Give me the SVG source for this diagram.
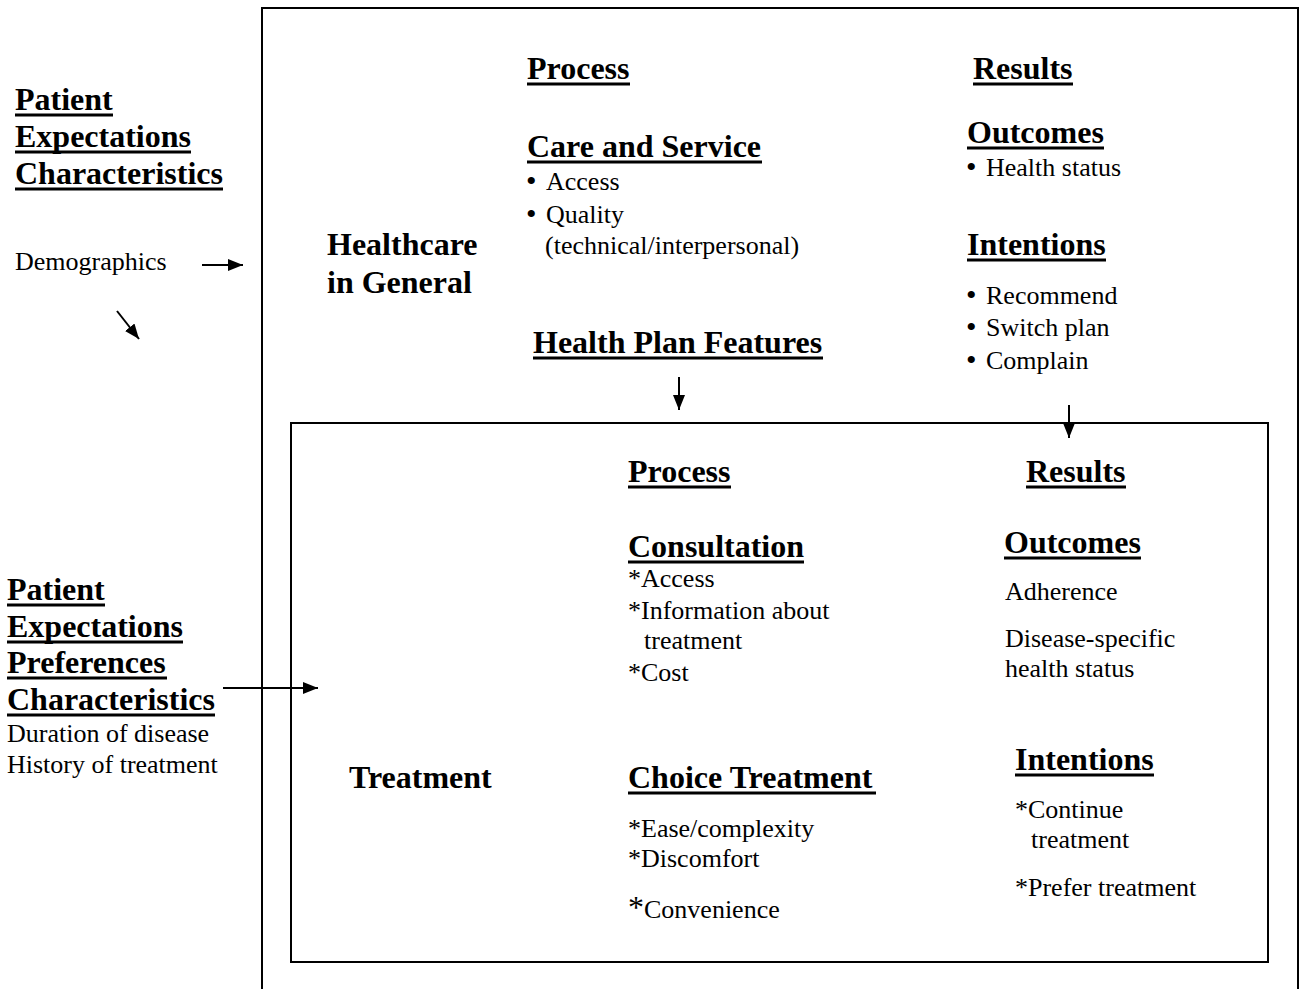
<svg xmlns="http://www.w3.org/2000/svg" width="1304" height="989" viewBox="0 0 1304 989">
  <style>
    text { font-family: "Liberation Serif", "Times New Roman", serif; fill: #000; }
    .h { font-size: 32px; font-weight: bold; }
    .b { font-size: 26px; }
    .dot { font-size: 30px; }
    .ul { stroke: #000; stroke-width: 3; }
    .box { fill: none; stroke: #000; stroke-width: 2; }
    .conn { stroke: #000; stroke-width: 2; fill: none; }
  </style>
  <defs>
    <marker id="arrow" markerUnits="userSpaceOnUse" markerWidth="16" markerHeight="12" refX="15" refY="6" orient="auto">
      <path d="M0,0 L15,6 L0,12 Z" fill="#000"/>
    </marker>
  </defs>
  <rect width="1304" height="989" fill="#fff"/>

  <!-- frames -->
  <g id="healthcare-frame">
    <rect class="box" x="262" y="8" width="1036" height="1010"/>
  </g>
  <g id="treatment-frame">
    <rect class="box" x="291" y="423" width="977" height="539"/>
  </g>

  <!-- patient factors, general level -->
  <g id="patient-general">
    <text class="h" x="15" y="110">Patient</text>
    <line class="ul" x1="15" y1="115" x2="113" y2="115"/>
    <text class="h" x="15" y="147">Expectations</text>
    <line class="ul" x1="15" y1="152" x2="191" y2="152"/>
    <text class="h" x="15" y="184">Characteristics</text>
    <line class="ul" x1="15" y1="189" x2="223" y2="189"/>
    <text class="b" x="15" y="270">Demographics</text>
  </g>

  <g id="healthcare-label">
    <text class="h" x="327" y="255">Healthcare</text>
    <text class="h" x="327" y="293">in General</text>
  </g>

  <g id="general-process">
    <text class="h" x="527" y="79">Process</text>
    <line class="ul" x1="527" y1="84" x2="630" y2="84"/>
    <text class="h" x="527" y="157">Care and Service</text>
    <line class="ul" x1="527" y1="162" x2="762" y2="162"/>
    <text class="b" y="190"><tspan class="dot" x="526" dy="1">•</tspan><tspan x="546" dy="-1">Access</tspan></text>
    <text class="b" y="223"><tspan class="dot" x="526" dy="1">•</tspan><tspan x="546" dy="-1">Quality</tspan></text>
    <text class="b" x="545" y="254">(technical/interpersonal)</text>
  </g>

  <g id="health-plan-features">
    <text class="h" x="533" y="353">Health Plan Features</text>
    <line class="ul" x1="533" y1="358" x2="823" y2="358"/>
  </g>

  <g id="general-results">
    <text class="h" x="973" y="79">Results</text>
    <line class="ul" x1="973" y1="84" x2="1073" y2="84"/>
    <text class="h" x="967" y="143">Outcomes</text>
    <line class="ul" x1="967" y1="148" x2="1104" y2="148"/>
    <text class="b" y="176"><tspan class="dot" x="966" dy="1">•</tspan><tspan x="986" dy="-1">Health status</tspan></text>
    <text class="h" x="967" y="255">Intentions</text>
    <line class="ul" x1="967" y1="260" x2="1106" y2="260"/>
    <text class="b" y="304"><tspan class="dot" x="966" dy="1">•</tspan><tspan x="986" dy="-1">Recommend</tspan></text>
    <text class="b" y="336"><tspan class="dot" x="966" dy="1">•</tspan><tspan x="986" dy="-1">Switch plan</tspan></text>
    <text class="b" y="369"><tspan class="dot" x="966" dy="1">•</tspan><tspan x="986" dy="-1">Complain</tspan></text>
  </g>

  <!-- patient factors, treatment level -->
  <g id="patient-treatment">
    <text class="h" x="7" y="600">Patient</text>
    <line class="ul" x1="7" y1="605" x2="105" y2="605"/>
    <text class="h" x="7" y="637">Expectations</text>
    <line class="ul" x1="7" y1="642" x2="183" y2="642"/>
    <text class="h" x="7" y="673">Preferences</text>
    <line class="ul" x1="7" y1="678" x2="167" y2="678"/>
    <text class="h" x="7" y="710">Characteristics</text>
    <line class="ul" x1="7" y1="715" x2="215" y2="715"/>
    <text class="b" x="7" y="742">Duration of disease</text>
    <text class="b" x="7" y="773">History of treatment</text>
  </g>

  <g id="treatment-label">
    <text class="h" x="349" y="788">Treatment</text>
  </g>

  <g id="treatment-process">
    <text class="h" x="628" y="482">Process</text>
    <line class="ul" x1="628" y1="487" x2="731" y2="487"/>
    <text class="h" x="628" y="557">Consultation</text>
    <line class="ul" x1="628" y1="562" x2="804" y2="562"/>
    <text class="b" x="628" y="587">*Access</text>
    <text class="b" x="628" y="619">*Information about</text>
    <text class="b" x="644" y="649">treatment</text>
    <text class="b" x="628" y="681">*Cost</text>
  </g>

  <g id="choice-treatment">
    <text class="h" x="628" y="788">Choice Treatment</text>
    <line class="ul" x1="628" y1="793" x2="876" y2="793"/>
    <text class="b" x="628" y="837">*Ease/complexity</text>
    <text class="b" x="628" y="867">*Discomfort</text>
    <text class="b" x="628" y="918"><tspan font-size="32">*</tspan>Convenience</text>
  </g>

  <g id="treatment-results">
    <text class="h" x="1026" y="482">Results</text>
    <line class="ul" x1="1026" y1="487" x2="1126" y2="487"/>
    <text class="h" x="1004" y="553">Outcomes</text>
    <line class="ul" x1="1004" y1="558" x2="1141" y2="558"/>
    <text class="b" x="1005" y="600">Adherence</text>
    <text class="b" x="1005" y="647">Disease-specific</text>
    <text class="b" x="1005" y="677">health status</text>
    <text class="h" x="1015" y="770">Intentions</text>
    <line class="ul" x1="1015" y1="775" x2="1154" y2="775"/>
    <text class="b" x="1015" y="818">*Continue</text>
    <text class="b" x="1031" y="848">treatment</text>
    <text class="b" x="1015" y="896">*Prefer treatment</text>
  </g>

  <!-- connectors -->
  <g id="connectors">
    <line class="conn" x1="202" y1="265" x2="243" y2="265" marker-end="url(#arrow)"/>
    <line class="conn" x1="117" y1="311" x2="139" y2="339" marker-end="url(#arrow)"/>
    <line class="conn" x1="679" y1="377" x2="679" y2="410" marker-end="url(#arrow)"/>
    <line class="conn" x1="1069" y1="405" x2="1069" y2="438" marker-end="url(#arrow)"/>
    <line class="conn" x1="223" y1="688" x2="318" y2="688" marker-end="url(#arrow)"/>
  </g>
</svg>
